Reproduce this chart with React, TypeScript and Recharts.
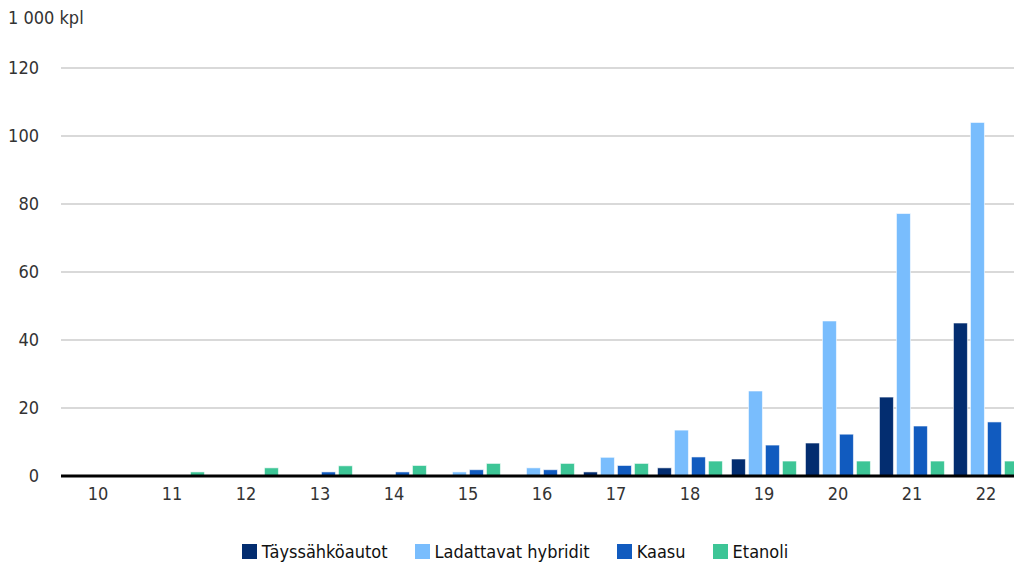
import { BarChart, Bar, XAxis, YAxis, CartesianGrid, Legend } from 'recharts';

const years = ['10', '11', '12', '13', '14', '15', '16', '17', '18', '19', '20', '21', '22'];
const taysSahko = [0.1, 0.1, 0.1, 0.2, 0.1, 0.2, 0.3, 1.2, 2.4, 5, 9.7, 23.2, 45];
const ladattavat = [0, 0, 0, 0.1, 0.1, 1.2, 2.4, 5.5, 13.5, 25, 45.6, 77.2, 104];
const kaasu = [0.2, 0.2, 0.3, 1.2, 1.2, 1.85, 1.85, 3.1, 5.6, 9.1, 12.3, 14.7, 15.9];
const etanoli = [0.3, 1.2, 2.4, 3.0, 3.1, 3.7, 3.7, 3.7, 4.4, 4.4, 4.4, 4.4, 4.4];
const yTicks = [0, 20, 40, 60, 80, 100, 120];

const series = [
  { key: 'taysSahko', name: 'Täyssähköautot', color: '#032d70' },
  { key: 'ladattavat', name: 'Ladattavat hybridit', color: '#79bdfd' },
  { key: 'kaasu', name: 'Kaasu', color: '#115bbf' },
  { key: 'etanoli', name: 'Etanoli', color: '#3dc596' },
];

const data = years.map((y, i) => ({
  year: y,
  taysSahko: taysSahko[i],
  ladattavat: ladattavat[i],
  kaasu: kaasu[i],
  etanoli: etanoli[i],
}));

const font = "'Liberation Sans Narrow', 'DejaVu Sans Condensed', 'Roboto', sans-serif";
const textColor = '#333';

function LegendContent() {
  return (
    <div style={{ display: 'flex', justifyContent: 'center', gap: 27, fontFamily: font, fontSize: 18, color: '#111', paddingLeft: 16 }}>
      {series.map((s) => (
        <div key={s.key} style={{ display: 'flex', alignItems: 'center' }}>
          <span style={{ width: 15, height: 15, background: s.color, display: 'inline-block', marginRight: 5 }} />
          <span>{s.name}</span>
        </div>
      ))}
    </div>
  );
}

export default function App() {
  return (
    <div style={{ position: 'absolute', left: 0, top: 0, width: 1014, height: 567, overflow: 'hidden', background: '#fff' }}>
      <div style={{ position: 'absolute', left: 8, top: 7, fontFamily: font, fontSize: 18, color: textColor }}>1 000 kpl</div>
      <BarChart
        width={1030}
        height={567}
        data={data}
        margin={{ top: 68, right: 7, bottom: 0, left: 0 }}
        barCategoryGap="6%"
        barGap={3}
      >
        <CartesianGrid vertical={false} stroke="#d9d9d9" strokeWidth={2} />
        <XAxis
          dataKey="year"
          tickLine={false}
          axisLine={{ stroke: '#000', strokeWidth: 3 }}
          tick={{ fontFamily: font, fontSize: 18, fill: textColor }}
          tickMargin={5}
          height={52}
        />
        <YAxis
          domain={[0, 120]}
          ticks={yTicks}
          width={61}
          axisLine={false}
          tickLine={false}
          tickSize={0}
          tickMargin={22}
          tick={{ fontFamily: font, fontSize: 18, fill: textColor }}
        />
        <Legend height={39} content={<LegendContent />} wrapperStyle={{ left: 0, top: 541, width: 1014 }} />
        {series.map((s) => (
          <Bar key={s.key} dataKey={s.key} name={s.name} fill={s.color} stroke="#ffffff" strokeWidth={0.6} isAnimationActive={false} />
        ))}
      </BarChart>
    </div>
  );
}
